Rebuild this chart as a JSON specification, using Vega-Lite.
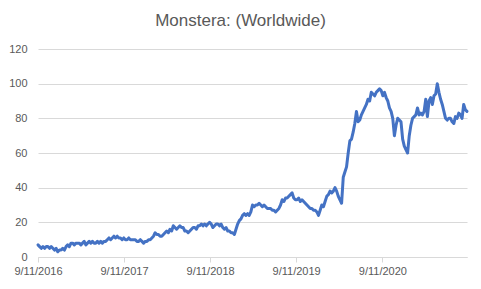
{
"$schema":"https://vega.github.io/schema/vega-lite/v6.json",
"width":429,"height":208,
"autosize":{"type":"none"},
"padding":{"left":38,"top":49,"right":14,"bottom":32},
"background":"white",
"title":{"text":"Monstera: (Worldwide)","font":"Liberation Sans","fontSize":17,"fontWeight":"normal","color":"#595959","anchor":"middle","dx":-12,"offset":13},
"config":{"view":{"stroke":null}},
"data":{"values":[
{"date":"2016-09-11","value":7},{"date":"2016-09-18","value":6},{"date":"2016-09-25","value":5},{"date":"2016-10-02","value":6},{"date":"2016-10-09","value":5},{"date":"2016-10-16","value":6},{"date":"2016-10-23","value":6},{"date":"2016-10-30","value":5},{"date":"2016-11-06","value":6},{"date":"2016-11-13","value":5},
{"date":"2016-11-20","value":4},{"date":"2016-11-27","value":5},{"date":"2016-12-04","value":3},{"date":"2016-12-11","value":4},{"date":"2016-12-18","value":4},{"date":"2016-12-25","value":5},{"date":"2017-01-01","value":4},{"date":"2017-01-08","value":6},{"date":"2017-01-15","value":7},{"date":"2017-01-22","value":6},
{"date":"2017-01-29","value":8},{"date":"2017-02-05","value":8},{"date":"2017-02-12","value":7},{"date":"2017-02-19","value":8},{"date":"2017-02-26","value":8},{"date":"2017-03-05","value":8},{"date":"2017-03-12","value":7},{"date":"2017-03-19","value":8},{"date":"2017-03-26","value":9},{"date":"2017-04-02","value":7},
{"date":"2017-04-09","value":8},{"date":"2017-04-16","value":9},{"date":"2017-04-23","value":8},{"date":"2017-04-30","value":9},{"date":"2017-05-07","value":8},{"date":"2017-05-14","value":8},{"date":"2017-05-21","value":9},{"date":"2017-05-28","value":8},{"date":"2017-06-04","value":9},{"date":"2017-06-11","value":8},
{"date":"2017-06-18","value":9},{"date":"2017-06-25","value":9},{"date":"2017-07-02","value":10},{"date":"2017-07-09","value":11},{"date":"2017-07-16","value":10},{"date":"2017-07-23","value":11},{"date":"2017-07-30","value":12},{"date":"2017-08-06","value":11},{"date":"2017-08-13","value":12},{"date":"2017-08-20","value":11},
{"date":"2017-08-27","value":11},{"date":"2017-09-03","value":10},{"date":"2017-09-10","value":11},{"date":"2017-09-17","value":10},{"date":"2017-09-24","value":10},{"date":"2017-10-01","value":11},{"date":"2017-10-08","value":10},{"date":"2017-10-15","value":10},{"date":"2017-10-22","value":10},{"date":"2017-10-29","value":10},
{"date":"2017-11-05","value":9},{"date":"2017-11-12","value":9},{"date":"2017-11-19","value":10},{"date":"2017-11-26","value":9},{"date":"2017-12-03","value":8},{"date":"2017-12-10","value":9},{"date":"2017-12-17","value":9},{"date":"2017-12-24","value":10},{"date":"2017-12-31","value":10},{"date":"2018-01-07","value":11},
{"date":"2018-01-14","value":12},{"date":"2018-01-21","value":14},{"date":"2018-01-28","value":13},{"date":"2018-02-04","value":13},{"date":"2018-02-11","value":12},{"date":"2018-02-18","value":12},{"date":"2018-02-25","value":13},{"date":"2018-03-04","value":14},{"date":"2018-03-11","value":15},{"date":"2018-03-18","value":14},
{"date":"2018-03-25","value":16},{"date":"2018-04-01","value":15},{"date":"2018-04-08","value":18},{"date":"2018-04-15","value":17},{"date":"2018-04-22","value":16},{"date":"2018-04-29","value":17},{"date":"2018-05-06","value":18},{"date":"2018-05-13","value":17},{"date":"2018-05-20","value":17},{"date":"2018-05-27","value":15},
{"date":"2018-06-03","value":15},{"date":"2018-06-10","value":14},{"date":"2018-06-17","value":15},{"date":"2018-06-24","value":16},{"date":"2018-07-01","value":17},{"date":"2018-07-08","value":17},{"date":"2018-07-15","value":16},{"date":"2018-07-22","value":18},{"date":"2018-07-29","value":18},{"date":"2018-08-05","value":19},
{"date":"2018-08-12","value":18},{"date":"2018-08-19","value":19},{"date":"2018-08-26","value":18},{"date":"2018-09-02","value":19},{"date":"2018-09-09","value":20},{"date":"2018-09-16","value":19},{"date":"2018-09-23","value":17},{"date":"2018-09-30","value":18},{"date":"2018-10-07","value":19},{"date":"2018-10-14","value":19},
{"date":"2018-10-21","value":18},{"date":"2018-10-28","value":19},{"date":"2018-11-04","value":17},{"date":"2018-11-11","value":16},{"date":"2018-11-18","value":17},{"date":"2018-11-25","value":15},{"date":"2018-12-02","value":15},{"date":"2018-12-09","value":14},{"date":"2018-12-16","value":14},{"date":"2018-12-23","value":13},
{"date":"2018-12-30","value":16},{"date":"2019-01-06","value":19},{"date":"2019-01-13","value":21},{"date":"2019-01-20","value":22},{"date":"2019-01-27","value":24},{"date":"2019-02-03","value":25},{"date":"2019-02-10","value":24},{"date":"2019-02-17","value":25},{"date":"2019-02-24","value":24},{"date":"2019-03-03","value":26},
{"date":"2019-03-10","value":30},{"date":"2019-03-17","value":29},{"date":"2019-03-24","value":30},{"date":"2019-03-31","value":30},{"date":"2019-04-07","value":31},{"date":"2019-04-14","value":30},{"date":"2019-04-21","value":29},{"date":"2019-04-28","value":30},{"date":"2019-05-05","value":29},{"date":"2019-05-12","value":28},
{"date":"2019-05-19","value":28},{"date":"2019-05-26","value":28},{"date":"2019-06-02","value":27},{"date":"2019-06-09","value":27},{"date":"2019-06-16","value":26},{"date":"2019-06-23","value":27},{"date":"2019-06-30","value":28},{"date":"2019-07-07","value":30},{"date":"2019-07-14","value":33},{"date":"2019-07-21","value":32},
{"date":"2019-07-28","value":34},{"date":"2019-08-04","value":34},{"date":"2019-08-11","value":35},{"date":"2019-08-18","value":36},{"date":"2019-08-25","value":37},{"date":"2019-09-01","value":34},{"date":"2019-09-08","value":33},{"date":"2019-09-15","value":33},{"date":"2019-09-22","value":34},{"date":"2019-09-29","value":32},
{"date":"2019-10-06","value":33},{"date":"2019-10-13","value":32},{"date":"2019-10-20","value":31},{"date":"2019-10-27","value":30},{"date":"2019-11-03","value":29},{"date":"2019-11-10","value":28},{"date":"2019-11-17","value":28},{"date":"2019-11-24","value":27},{"date":"2019-12-01","value":27},{"date":"2019-12-08","value":26},
{"date":"2019-12-15","value":24},{"date":"2019-12-22","value":27},{"date":"2019-12-29","value":30},{"date":"2020-01-05","value":29},{"date":"2020-01-12","value":32},{"date":"2020-01-19","value":35},{"date":"2020-01-26","value":36},{"date":"2020-02-02","value":38},{"date":"2020-02-09","value":37},{"date":"2020-02-16","value":38},
{"date":"2020-02-23","value":40},{"date":"2020-03-01","value":38},{"date":"2020-03-08","value":35},{"date":"2020-03-15","value":33},{"date":"2020-03-22","value":31},{"date":"2020-03-29","value":46},{"date":"2020-04-05","value":49},{"date":"2020-04-12","value":52},{"date":"2020-04-19","value":60},{"date":"2020-04-26","value":67},
{"date":"2020-05-03","value":68},{"date":"2020-05-10","value":72},{"date":"2020-05-17","value":77},{"date":"2020-05-24","value":84},{"date":"2020-05-31","value":78},{"date":"2020-06-07","value":79},{"date":"2020-06-14","value":82},{"date":"2020-06-21","value":84},{"date":"2020-06-28","value":86},{"date":"2020-07-05","value":88},
{"date":"2020-07-12","value":91},{"date":"2020-07-19","value":90},{"date":"2020-07-26","value":95},{"date":"2020-08-02","value":94},{"date":"2020-08-09","value":93},{"date":"2020-08-16","value":95},{"date":"2020-08-23","value":96},{"date":"2020-08-30","value":97},{"date":"2020-09-06","value":96},{"date":"2020-09-13","value":93},
{"date":"2020-09-20","value":95},{"date":"2020-09-27","value":92},{"date":"2020-10-04","value":90},{"date":"2020-10-11","value":86},{"date":"2020-10-18","value":84},{"date":"2020-10-25","value":80},{"date":"2020-11-01","value":70},{"date":"2020-11-08","value":76},{"date":"2020-11-15","value":80},{"date":"2020-11-22","value":79},
{"date":"2020-11-29","value":78},{"date":"2020-12-06","value":68},{"date":"2020-12-13","value":64},{"date":"2020-12-20","value":62},{"date":"2020-12-27","value":60},{"date":"2021-01-03","value":70},{"date":"2021-01-10","value":76},{"date":"2021-01-17","value":80},{"date":"2021-01-24","value":81},{"date":"2021-01-31","value":82},
{"date":"2021-02-07","value":86},{"date":"2021-02-14","value":82},{"date":"2021-02-21","value":83},{"date":"2021-02-28","value":82},{"date":"2021-03-07","value":84},{"date":"2021-03-14","value":91},{"date":"2021-03-21","value":81},{"date":"2021-03-28","value":90},{"date":"2021-04-04","value":92},{"date":"2021-04-11","value":88},
{"date":"2021-04-18","value":93},{"date":"2021-04-25","value":94},{"date":"2021-05-02","value":100},{"date":"2021-05-09","value":95},{"date":"2021-05-16","value":91},{"date":"2021-05-23","value":88},{"date":"2021-05-30","value":84},{"date":"2021-06-06","value":80},{"date":"2021-06-13","value":79},{"date":"2021-06-20","value":80},
{"date":"2021-06-27","value":80},{"date":"2021-07-04","value":78},{"date":"2021-07-11","value":77},{"date":"2021-07-18","value":81},{"date":"2021-07-25","value":80},{"date":"2021-08-01","value":83},{"date":"2021-08-08","value":82},{"date":"2021-08-15","value":80},{"date":"2021-08-22","value":88},{"date":"2021-08-29","value":85},
{"date":"2021-09-05","value":84}
]},
"mark":{"type":"line","color":"#4472C4","strokeWidth":3,"strokeJoin":"round","strokeCap":"round"},
"encoding":{
"x":{"field":"date","type":"temporal","title":null,
"scale":{"type":"utc","nice":false,"domain":[{"year":2016,"month":9,"date":11,"utc":true},{"year":2021,"month":9,"date":5,"utc":true}]},
"axis":{"values":[{"year":2016,"month":9,"date":11,"utc":true},{"year":2017,"month":9,"date":11,"utc":true},{"year":2018,"month":9,"date":11,"utc":true},{"year":2019,"month":9,"date":11,"utc":true},{"year":2020,"month":9,"date":11,"utc":true}],
"labelExpr":"utcFormat(datum.value, '%-m/%-d/%Y')","grid":false,"domainColor":"#d9d9d9","tickColor":"#d9d9d9","tickSize":5,"labelPadding":3,"labelFont":"Liberation Sans","labelFontSize":11,"labelColor":"#595959","labelOverlap":false,"labelFlush":false}},
"y":{"field":"value","type":"quantitative","title":null,
"scale":{"domain":[0,120],"nice":false},
"axis":{"values":[0,20,40,60,80,100,120],"domain":false,"ticks":false,"grid":true,"gridColor":"#d9d9d9","labelPadding":11,"labelFont":"Liberation Sans","labelFontSize":11,"labelColor":"#595959"}}
}
}
